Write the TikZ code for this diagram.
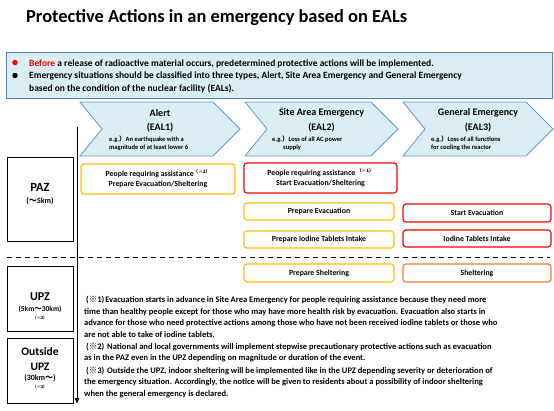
\documentclass[tikz,border=0pt]{standalone}
\usepackage{fontspec}
\setmainfont{Carlito}
\newfontfamily\cjk{Noto Sans CJK JP}
\usetikzlibrary{arrows.meta}

\definecolor{chevfill}{HTML}{DAEEF3}
\definecolor{chevline}{HTML}{5B9BD5}
\definecolor{infoline}{HTML}{4F81BD}
\definecolor{boxyellow}{HTML}{FFC000}
\definecolor{boxred}{HTML}{FF0000}
\definecolor{boxorange}{HTML}{ED7D31}

\newcommand{\fsz}[2]{\fontsize{#1}{#2}\selectfont\bfseries}
\newcommand{\refmk}[1]{\raisebox{2.6pt}{\fontsize{4.6}{5}\selectfont\cjk （※#1）}}
\newcommand{\notemk}[1]{\hspace*{2pt}({\cjk ※}#1)\hspace{1pt}}

\tikzset{
  chev/.style={draw=chevline, fill=chevfill, line width=0.8pt},
  actbox/.style={draw=#1, fill=white, rounded corners=3pt, line width=1.2pt,
    inner sep=0pt, align=center, font=\fsz{7.8}{10.5}},
  zonebox/.style={draw=black, line width=1pt, inner sep=0pt},
  notetext/.style={anchor=north west, align=left, inner sep=0pt, font=\fsz{8.5}{11.7}},
}

\begin{document}
\begin{tikzpicture}[x=1pt, y=-1pt]
\useasboundingbox (0,0) rectangle (554,410);

\node[anchor=west, inner sep=0pt, font=\fsz{18.4}{20}] (title) at (26,18)
  {Protective Actions in an emergency based on EALs};

\node[draw=infoline, fill=chevfill, line width=1pt, inner sep=0pt,
  minimum width=546pt, minimum height=46pt] (info) at (279,75) {};
\node[circle, fill=boxred, inner sep=0pt, minimum size=5.5pt] (dot1) at (15,62.5) {};
\node[circle, fill=black, inner sep=0pt, minimum size=5.5pt] (dot2) at (15,75.5) {};
\node[anchor=base west, inner sep=0pt, font=\fsz{9.5}{12}] (info1) at (29,66)
  {\textcolor{boxred}{Before} a release of radioactive material occurs, predetermined protective actions will be implemented.};
\node[anchor=base west, inner sep=0pt, font=\fsz{9.5}{12}] (info2) at (29,78.8)
  {Emergency situations should be classified into three types, Alert, Site Area Emergency and General Emergency};
\node[anchor=base west, inner sep=0pt, font=\fsz{9.5}{12}] (info3) at (29,91.2)
  {based on the condition of the nuclear facility (EALs).};

\foreach \x/\w/\ttl/\n in {80/160/Alert/1, 245/153/Site Area Emergency/2, 403/150/General Emergency/3}
{
  \filldraw[chev] (\x,102)--(\x+\w-27,102)--(\x+\w,129)--(\x+\w-27,156)--(\x,156)--(\x+22,129)--cycle;
  \node[font=\fsz{10}{12}, inner sep=0pt] (eal\n-name) at (\x+\w/2,113) {\ttl};
  \node[font=\fsz{10}{12}, inner sep=0pt] (eal\n-code) at (\x+\w/2,128) {(EAL\n)};
}
\node[anchor=west, align=left, inner sep=0pt, font=\fsz{6.5}{8.4}] (eal1-ex) at (109,143.5)
  {e.g.{\cjk ）}An earthquake with a\\magnitude of at least lower 6};
\node[anchor=west, align=left, inner sep=0pt, font=\fsz{6.5}{8.4}] (eal2-ex) at (272,143.5)
  {e.g.{\cjk ）}Loss of all AC power\\\hspace*{11pt}supply};
\node[anchor=west, align=left, inner sep=0pt, font=\fsz{6.5}{8.4}] (eal3-ex) at (431,143.5)
  {e.g.{\cjk ）}Loss of all functions\\for cooling the reactor};

\node[actbox=boxyellow, minimum width=154pt, minimum height=30pt] (alert-pa) at (158,179)
  {People requiring assistance\refmk{1}\\Prepare Evacuation/Sheltering};
\node[actbox=boxred, minimum width=153pt, minimum height=30pt] (site-pa) at (320.5,178)
  {People requiring assistance \refmk{1}\\Start Evacuation/Sheltering};
\node[actbox=boxyellow, minimum width=150pt, minimum height=17pt] (site-pe) at (319,211.5) {Prepare Evacuation};
\node[actbox=boxred, minimum width=148pt, minimum height=18pt] (gen-se) at (477,213) {Start Evacuation};
\node[actbox=boxyellow, minimum width=150pt, minimum height=17pt] (site-pi) at (319,239.5) {Prepare Iodine Tablets Intake};
\node[actbox=boxred, minimum width=148pt, minimum height=17pt] (gen-it) at (477,238.5) {Iodine Tablets Intake};
\node[actbox=boxyellow, minimum width=150pt, minimum height=18pt] (site-ps) at (319,273) {Prepare Sheltering};
\node[actbox=boxorange, minimum width=148pt, minimum height=18pt] (gen-sh) at (477,273) {Sheltering};

\draw[line width=1pt, dash pattern=on 5pt off 4pt] (7,257) -- (550,257);

\node[zonebox, minimum width=66pt, minimum height=84pt] (paz) at (40,199) {};
\node[font=\fsz{12.5}{14}, inner sep=0pt] (paz-name) at (40,187) {PAZ};
\node[font=\fsz{8}{10}, inner sep=0pt] (paz-dist) at (40,201) {({\cjk ～}5km)};

\node[zonebox, minimum width=66pt, minimum height=65pt] (upz) at (40,298.5) {};
\node[font=\fsz{12}{14}, inner sep=0pt] (upz-name) at (40,297) {UPZ};
\node[font=\fsz{7.5}{9}, inner sep=0pt] (upz-dist) at (40,309) {(5km{\cjk ～}30km)};
\node[font=\fsz{4}{5}\cjk, inner sep=0pt] (upz-ref) at (40,318) {（※2）};

\node[zonebox, minimum width=66pt, minimum height=65pt] (out) at (40,370.5) {};
\node[font=\fsz{11.5}{14}, inner sep=0pt] (out-name) at (40,352) {Outside};
\node[font=\fsz{11.5}{14}, inner sep=0pt] (out-upz) at (40,366.5) {UPZ};
\node[font=\fsz{8}{10}, inner sep=0pt] (out-dist) at (40,378) {(30km{\cjk ～})};
\node[font=\fsz{4}{5}\cjk, inner sep=0pt] (out-ref) at (40,387) {（※3）};

\coordinate (axis-top) at (77,127);
\coordinate (axis-end) at (77,404);
\draw[line width=0.9pt, -{Latex[length=6pt,width=5pt]}] (axis-top) -- (axis-end);

\node[notetext] (note1) at (84,296)
  {\notemk{1}Evacuation starts in advance in Site Area Emergency for people requiring assistance because they need more\\
   time than healthy people except for those who may have more health risk by evacuation. Evacuation also starts in\\
   advance for those who need protective actions among those who have not been received iodine tablets or those who\\
   are not able to take of iodine tablets.};
\node[notetext] (note2) at (84,342.5)
  {\notemk{2} National and local governments will implement stepwise precautionary protective actions such as evacuation\\
   as in the PAZ even in the UPZ depending on magnitude or duration of the event.};
\node[notetext] (note3) at (84,366.5)
  {\notemk{3} Outside the UPZ, indoor sheltering will be implemented like in the UPZ depending severity or deterioration of\\
   the emergency situation. Accordingly, the notice will be given to residents about a possibility of indoor sheltering\\
   when the general emergency is declared.};
\end{tikzpicture}
\end{document}
